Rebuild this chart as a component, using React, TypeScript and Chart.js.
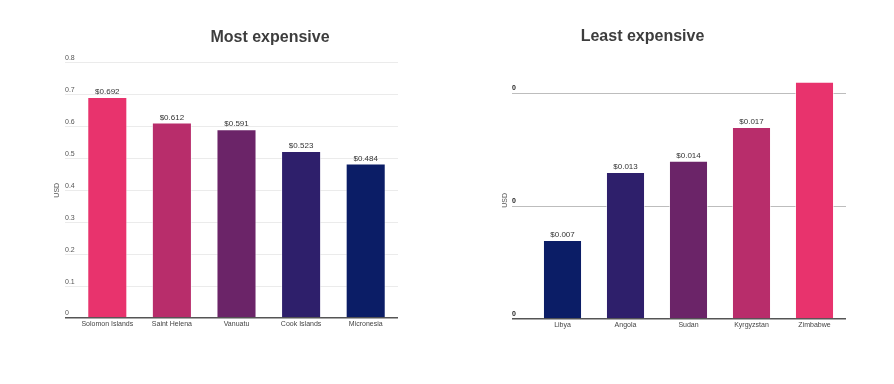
import React, { useEffect, useRef } from 'react';
import { Chart, registerables } from 'chart.js';

Chart.register(...registerables);

const mostCategories = ['Solomon Islands', 'Saint Helena', 'Vanuatu', 'Cook Islands', 'Micronesia'];
const mostValues = [0.692, 0.612, 0.591, 0.523, 0.484];
const mostColors = ['#E8336D', '#B82D6B', '#6B2468', '#2E1F6B', '#0B1D66'];

const leastCategories = ['Libya', 'Angola', 'Sudan', 'Kyrgyzstan', 'Zimbabwe'];
const leastValues = [0.007, 0.013, 0.014, 0.017, 0.021];
const leastColors = ['#0B1D66', '#2E1F6B', '#6B2468', '#B82D6B', '#E8336D'];

const mostAxis = { max: 0.8, step: 0.1 };
const leastAxis = { max: 0.021, step: 0.01 };

const FONT = 'Arial, "Liberation Sans", sans-serif';

const valueLabels = {
  id: 'valueLabels',
  afterDatasetsDraw(chart: any) {
    const { ctx, chartArea } = chart;
    const meta = chart.getDatasetMeta(0);
    const data = chart.data.datasets[0].data;
    ctx.save();
    ctx.font = '8px ' + FONT;
    ctx.fillStyle = '#333';
    ctx.textAlign = 'center';
    ctx.textBaseline = 'bottom';
    meta.data.forEach((bar: any, i: number) => {
      if (bar.y - 10 < chartArea.top) return;
      ctx.fillText('$' + Number(data[i]).toFixed(3), bar.x, bar.y - 1);
    });
    ctx.restore();
  },
};

type Spec = {
  title: string;
  cats: string[];
  vals: number[];
  colors: string[];
  max: number;
  step: number;
  width: number;
  yWidth: number;
  tickLen: number;
  usdPad: number;
  rightWidth: number;
  titleTop: number;
  titleBottom: number;
  xHeight: number;
  bold: boolean;
  gridColor: string;
  tickFormat: (v: number) => string;
};

function BarChart({ spec }: { spec: Spec }) {
  const ref = useRef<HTMLCanvasElement>(null);
  useEffect(() => {
    if (!ref.current) return;
    const s = spec;
    const scales: any = {
      x: {
        grid: { display: false, drawTicks: false },
        border: { display: false },
        ticks: { font: { size: 7, family: FONT }, color: '#444', padding: 2, maxRotation: 0, autoSkip: false },
        afterFit: (sc: any) => { sc.height = s.xHeight; },
      },
      y: {
        min: 0,
        max: s.max,
        border: { display: false },
        grid: {
          drawTicks: true,
          tickLength: s.tickLen,
          color: (c: any) => (c.tick && c.tick.value === 0 ? '#555' : s.gridColor),
          tickColor: (c: any) => (c.tick && c.tick.value === 0 ? '#555' : s.gridColor),
          lineWidth: (c: any) => (c.tick && c.tick.value === 0 ? 1.5 : 1),
        },
        ticks: {
          stepSize: s.step,
          includeBounds: false,
          mirror: true,
          crossAlign: 'near',
          padding: -s.tickLen,
          labelOffset: -4.5,
          font: { size: 7, family: FONT, weight: s.bold ? 'bold' : 'normal' },
          color: s.bold ? '#222' : '#555',
          callback: (v: any) => s.tickFormat(Number(v)),
        },
        title: {
          display: true,
          text: 'USD',
          font: { size: 7, family: FONT },
          color: '#555',
          padding: { top: s.usdPad, bottom: 0 },
        },
        afterFit: (sc: any) => { sc.width = s.yWidth; },
      },
    };
    if (s.rightWidth > 0) {
      scales.yr = {
        position: 'right',
        display: true,
        grid: { display: false, drawTicks: false },
        border: { display: false },
        ticks: { display: false },
        afterFit: (sc: any) => { sc.width = s.rightWidth; },
      };
    }
    const chart = new Chart(ref.current, {
      type: 'bar',
      data: {
        labels: s.cats,
        datasets: [
          {
            data: s.vals,
            backgroundColor: s.colors,
            borderColor: 'rgba(255,255,255,0.55)',
            borderWidth: 1,
            barPercentage: 0.62,
            categoryPercentage: 1,
          },
        ],
      },
      options: {
        responsive: false,
        animation: false,
        layout: { padding: 0 },
        plugins: {
          legend: { display: false },
          tooltip: { enabled: false },
          title: {
            display: true,
            text: s.title,
            color: '#3d3d3d',
            font: { size: 16, weight: 'bold', family: FONT, lineHeight: 1.2 },
            padding: { top: s.titleTop, bottom: s.titleBottom },
          },
        },
        scales,
      } as any,
      plugins: [valueLabels],
    });
    return () => chart.destroy();
  }, [spec]);
  return <canvas ref={ref} width={spec.width} height={384} style={{ display: 'block', width: spec.width, height: 384 }} />;
}

const leftSpec: Spec = {
  title: 'Most expensive',
  cats: mostCategories,
  vals: mostValues,
  colors: mostColors,
  max: mostAxis.max,
  step: mostAxis.step,
  width: 540,
  yWidth: 75,
  tickLen: 10,
  usdPad: 52.8,
  rightWidth: 142,
  titleTop: 28.4,
  titleBottom: 14.9,
  xHeight: 66,
  bold: false,
  gridColor: '#ebebeb',
  tickFormat: (v) => String(Math.round(v * 10) / 10),
};

const rightSpec: Spec = {
  title: 'Least expensive',
  cats: leastCategories,
  vals: leastValues,
  colors: leastColors,
  max: leastAxis.max,
  step: leastAxis.step,
  width: 407,
  yWidth: 92,
  tickLen: 19,
  usdPad: 61.8,
  rightWidth: 0,
  titleTop: 27.4,
  titleBottom: 35.1,
  xHeight: 65,
  bold: true,
  gridColor: '#bdbdbd',
  tickFormat: (v) => v.toFixed(0),
};

export default function App() {
  return (
    <div style={{ position: 'absolute', left: 0, top: 0, width: 894, height: 384, background: '#fff', overflow: 'hidden' }}>
      <div style={{ position: 'absolute', left: 0, top: 0 }}>
        <BarChart spec={leftSpec} />
      </div>
      <div style={{ position: 'absolute', left: 439, top: 0 }}>
        <BarChart spec={rightSpec} />
      </div>
    </div>
  );
}
